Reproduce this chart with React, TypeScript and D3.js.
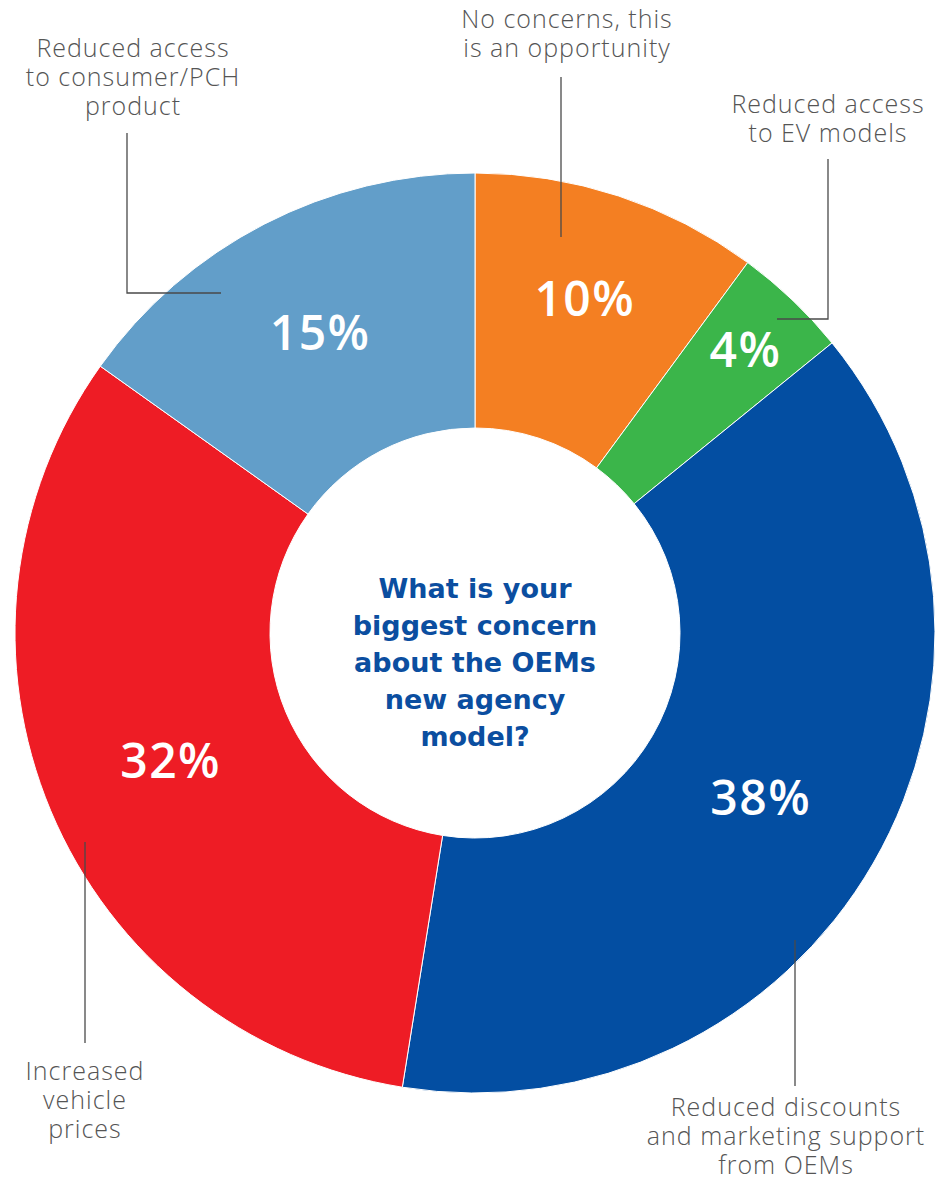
import React, { useEffect } from "react";
import * as d3 from "d3";

const categories = [
  "No concerns, this is an opportunity",
  "Reduced access to EV models",
  "Reduced discounts and marketing support from OEMs",
  "Increased vehicle prices",
  "Reduced access to consumer/PCH product",
];
const values = [10, 4, 38, 32, 15];
const colors = ["#F47F22", "#3BB54A", "#034EA2", "#EE1C25", "#629EC9"];
const labelLines = [
  ["No concerns, this", "is an opportunity"],
  ["Reduced access", "to EV models"],
  ["Reduced discounts", "and marketing support", "from OEMs"],
  ["Increased", "vehicle", "prices"],
  ["Reduced access", "to consumer/PCH", "product"],
];
const centerTitle = ["What is your", "biggest concern", "about the OEMs", "new agency", "model?"];

// layout (not data)
const W = 947;
const H = 1181;
const CX = 475;
const CY = 633;
const R_OUT = 460;
const R_IN = 205;
const pctRadius = [352, 392, 330, 330, 338];
const labelAnchor = [
  { x: 567, y: 28 },
  { x: 828, y: 113 },
  { x: 786, y: 1116 },
  { x: 85, y: 1080 },
  { x: 133, y: 57 },
];
const leaders = [
  [[561, 77], [561, 237]],
  [[828, 159], [828, 319], [777, 319]],
  [[795, 940], [795, 1086]],
  [[85, 842], [85, 1043]],
  [[127, 133], [127, 293], [221, 293]],
];

export default function App() {
  useEffect(() => {
    document.body.style.margin = "0";
  }, []);

  const pie = d3.pie<number>().sort(null).value((d) => d);
  const arcs = pie(values);
  const arc = d3.arc<d3.PieArcDatum<number>>().innerRadius(R_IN).outerRadius(R_OUT);
  const line = d3.line();

  return (
    <svg width={W} height={H} style={{ display: "block", background: "#fff" }}>
      <g transform={`translate(${CX},${CY})`}>
        {arcs.map((a, i) => (
          <path key={i} d={arc(a) || ""} fill={colors[i]} stroke="#fff" strokeWidth={1} />
        ))}
        {arcs.map((a, i) => {
          const mid = (a.startAngle + a.endAngle) / 2;
          const r = pctRadius[i];
          const x = Math.sin(mid) * r;
          const y = -Math.cos(mid) * r;
          return (
            <text
              key={i}
              x={x}
              y={y}
              dy="0.36em"
              textAnchor="middle"
              fill="#fff"
              fontFamily="'Open Sans', 'Noto Sans', sans-serif"
              fontWeight={600}
              fontSize={48}
              letterSpacing={1.5}
            >
              {values[i]}%
            </text>
          );
        })}
        <g fontFamily="'DejaVu Sans', sans-serif" fontWeight={700} fontSize={27} fill="#0B4EA0" textAnchor="middle">
          {centerTitle.map((t, i) => (
            <text key={i} x={0} y={-35 + i * 37}>
              {t}
            </text>
          ))}
        </g>
      </g>
      {leaders.map((pts, i) => (
        <path key={i} d={line(pts as [number, number][]) || ""} fill="none" stroke="#4a4a4a" strokeWidth={1.3} />
      ))}
      <g fontFamily="'Open Sans', 'Noto Sans', sans-serif" fontWeight={300} fontSize={25} fill="#555" textAnchor="middle" letterSpacing={1}>
        {labelLines.map((lines, i) =>
          lines.map((t, j) => (
            <text key={`${i}-${j}`} x={labelAnchor[i].x} y={labelAnchor[i].y + j * 29}>
              {t}
            </text>
          ))
        )}
      </g>
    </svg>
  );
}
